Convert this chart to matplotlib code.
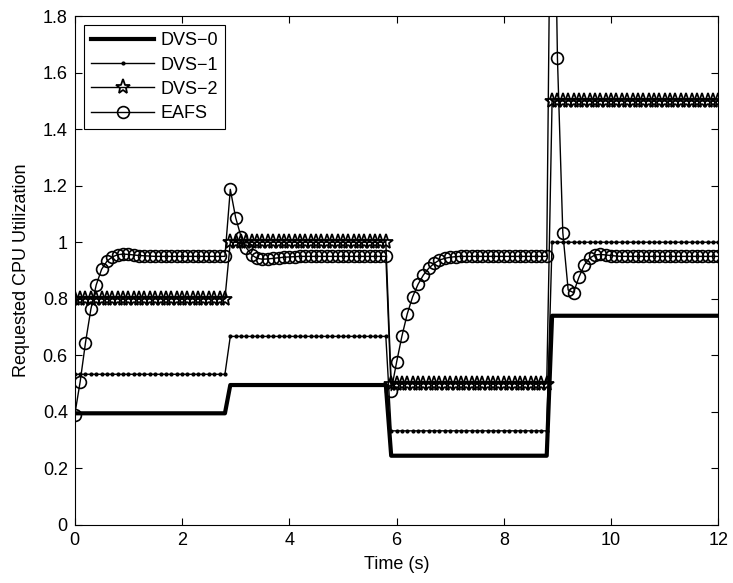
import numpy as np
import matplotlib.pyplot as plt
from matplotlib.ticker import FormatStrFormatter

plt.rcParams['font.family'] = ['Liberation Sans', 'DejaVu Sans']

# time axis, 0.1 s sampling
t = np.round(np.arange(0, 12.01, 0.1), 1)

# piecewise levels per interval (0-2.8, 2.9-5.8, 5.9-8.8, 8.9-12)
seg_len = [29, 30, 30, 32]
dvs0_levels = [0.395, 0.495, 0.245, 0.74]
dvs1_levels = [0.533, 0.667, 0.333, 1.0]
dvs2_levels = [0.8, 1.0, 0.5, 1.5]

dvs0 = sum([[v] * n for v, n in zip(dvs0_levels, seg_len)], [])
dvs1 = sum([[v] * n for v, n in zip(dvs1_levels, seg_len)], [])
dvs2 = sum([[v] * n for v, n in zip(dvs2_levels, seg_len)], [])

eafs_1 = [0.39, 0.506, 0.645, 0.763, 0.849, 0.904, 0.933, 0.948, 0.956, 0.958,
          0.957, 0.955, 0.953, 0.952, 0.951] + [0.95] * 14
eafs_2 = [1.187, 1.087, 1.02, 0.98, 0.955, 0.943, 0.94, 0.941, 0.943, 0.945,
          0.947, 0.948, 0.949] + [0.95] * 17
eafs_3 = [0.475, 0.575, 0.668, 0.747, 0.807, 0.851, 0.884, 0.908, 0.925, 0.937,
          0.943, 0.947, 0.949] + [0.95] * 17
eafs_4 = [2.85, 1.65, 1.034, 0.831, 0.822, 0.876, 0.919, 0.944, 0.955, 0.957,
          0.955, 0.953, 0.951] + [0.95] * 19
eafs = eafs_1 + eafs_2 + eafs_3 + eafs_4

fig = plt.figure(figsize=(7.33, 5.83), dpi=100)
ax = fig.add_axes([0.102, 0.0995, 0.878, 0.873])

ax.plot(t, dvs0, color='k', lw=3, label='DVS\u22120')
ax.plot(t, dvs1, color='k', lw=1, marker='.', ms=4, label='DVS\u22121')
ax.plot(t, dvs2, color='k', lw=1, marker='*', ms=11, mfc='none', mew=1.3,
        label='DVS\u22122')
ax.plot(t, eafs, color='k', lw=1, marker='o', ms=8.5, mfc='none', mew=1.2,
        label='EAFS')

ax.set_xlim(0, 12)
ax.set_ylim(0, 1.8)
ax.set_xticks(np.arange(0, 13, 2))
ax.set_yticks(np.arange(0, 1.81, 0.2))
ax.yaxis.set_major_formatter(FormatStrFormatter('%g'))
ax.tick_params(direction='in', top=True, right=True, labelsize=13, length=5,
               pad=5)

ax.set_xlabel('Time (s)', fontsize=13, labelpad=5)
ax.set_ylabel('Requested CPU Utilization', fontsize=13, labelpad=9)

leg = ax.legend(loc='upper left', fontsize=13, handlelength=3.5,
                fancybox=False, framealpha=1, edgecolor='k',
                borderaxespad=0.5, labelspacing=0.4, handletextpad=0.35,
                borderpad=0.4)
leg.get_frame().set_linewidth(0.8)

plt.savefig('out.png', dpi=100)
